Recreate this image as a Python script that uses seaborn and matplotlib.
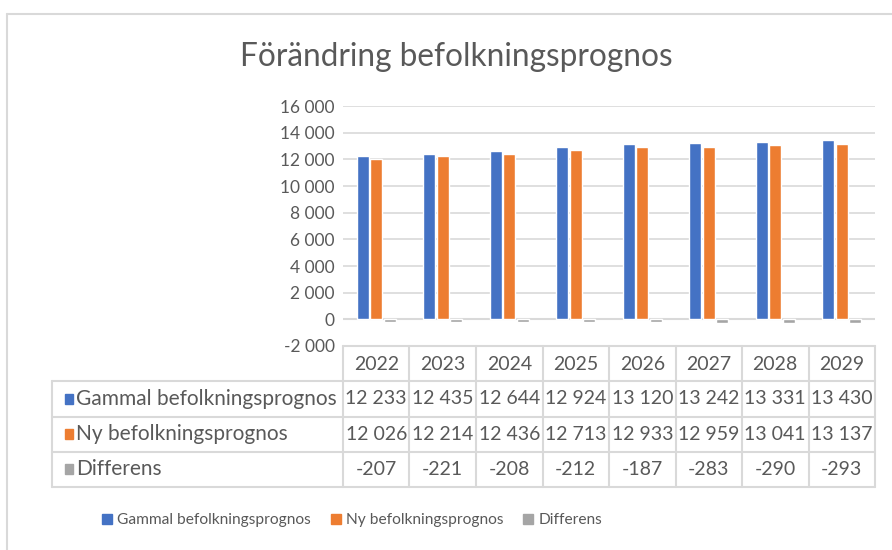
import numpy as np
import pandas as pd
import matplotlib
matplotlib.use("Agg")
import matplotlib.pyplot as plt
import seaborn as sns
from matplotlib.lines import Line2D
from matplotlib.patches import Rectangle

# data
years = ["2022", "2023", "2024", "2025", "2026", "2027", "2028", "2029"]
gammal = [12233, 12435, 12644, 12924, 13120, 13242, 13331, 13430]
ny = [12026, 12214, 12436, 12713, 12933, 12959, 13041, 13137]
differens = [-207, -221, -208, -212, -187, -283, -290, -293]
series_names = ["Gammal befolkningsprognos", "Ny befolkningsprognos", "Differens"]
colors = ["#4472C4", "#ED7D31", "#A5A5A5"]

sns.set_theme(style="white")
plt.rcParams["font.family"] = ["Lato", "DejaVu Sans"]
txt = "#595959"
grid_c = "#D9D9D9"

df = pd.DataFrame({
    "year": years * 3,
    "value": gammal + ny + differens,
    "serie": np.repeat(series_names, len(years)),
})

W, H = 892, 550
fig = plt.figure(figsize=(W / 100, H / 100), dpi=100)

def box(x0, y0, x1, y1):
    # pixel box -> figure fraction rect
    return [x0 / W, 1 - y1 / H, (x1 - x0) / W, (y1 - y0) / H]

def fmt(v):
    return f"{v:,}".replace(",", " ")

# chart border (cut at right/bottom like the screenshot)
fig.add_artist(Line2D([7 / W, 1], [1 - 14 / H, 1 - 14 / H], color=grid_c, lw=1.5))
fig.add_artist(Line2D([7 / W, 7 / W], [0, 1 - 14 / H], color=grid_c, lw=1.5))

fig.text(456 / W, 1 - 57 / H, "Förändring befolkningsprognos", ha="center", va="center",
         fontsize=22.7, color=txt)

ax = fig.add_axes(box(343, 106, 875, 346))
sns.barplot(data=df, x="year", y="value", hue="serie", palette=colors, width=0.6, gap=0.1,
            saturation=1, legend=False, ax=ax)
ax.set_ylim(-2000, 16000)
ax.set_xlim(-0.5, len(years) - 0.5)
ticks = list(range(-2000, 16001, 2000))
ax.set_yticks(ticks)
ax.set_yticklabels([fmt(v) for v in ticks])
ax.yaxis.grid(True, color=grid_c, lw=1.2)
ax.set_axisbelow(True)
ax.axhline(0, color=grid_c, lw=1.5, zorder=0.5)
for s in ax.spines.values():
    s.set_visible(False)
ax.tick_params(axis="y", length=0, labelsize=12.5, labelcolor=txt, pad=6)
ax.set_xticks([])
ax.set_xlabel("")
ax.set_ylabel("")

# data table under the plot
ncol = len(years)
cw = (875 - 343) / ncol
lab_w = (343 - 52) / cw
tax = fig.add_axes(box(52, 346, 875, 487))
tax.set_xlim(-0.5 - lab_w, ncol - 0.5)
tax.set_ylim(4, 0)
tax.axis("off")
lc = dict(color=grid_c, lw=1.5, clip_on=False)
for r in range(5):
    x0 = -0.5 if r == 0 else -0.5 - lab_w
    tax.plot([x0, ncol - 0.5], [r, r], **lc)
for c in range(ncol + 1):
    tax.plot([c - 0.5, c - 0.5], [0, 4], **lc)
tax.plot([-0.5 - lab_w] * 2, [1, 4], **lc)
for i, y in enumerate(years):
    tax.text(i, 0.52, y, ha="center", va="center", fontsize=14, color=txt)
rows = [gammal, ny, differens]
for r, (name, vals, col) in enumerate(zip(series_names, rows, colors)):
    yy = r + 1.5
    tax.add_patch(Rectangle((-0.5 - lab_w + 13 / cw, yy - 0.14), 8 / cw, 0.28, color=col, clip_on=False))
    tax.text(-0.5 - lab_w + 24 / cw, yy, name, ha="left", va="center", fontsize=15, color=txt)
    for i, v in enumerate(vals):
        tax.text(i, yy, fmt(v), ha="center", va="center", fontsize=14, color=txt)

handles = [Line2D([], [], marker="s", ls="", color=c, markersize=7) for c in colors]
fig.legend(handles, series_names, loc="center", bbox_to_anchor=(352 / W, 1 - 520 / H), ncol=3,
           frameon=False, fontsize=11.2, labelcolor=txt, handlelength=0.6, handletextpad=0.35,
           columnspacing=1.3)

fig.savefig("out.png", dpi=100)
